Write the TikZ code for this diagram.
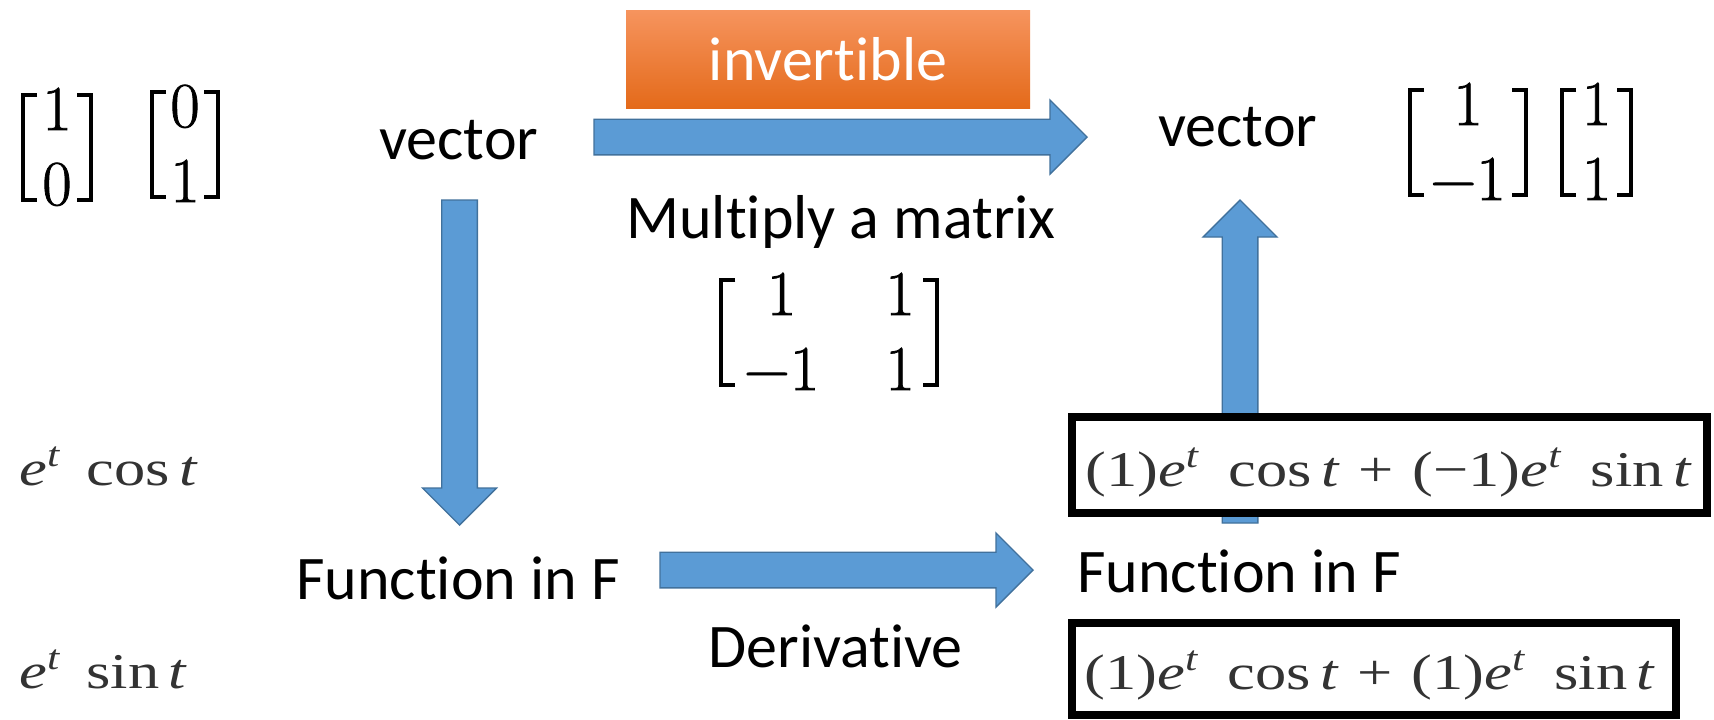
\documentclass[tikz,border=0pt]{standalone}
\usepackage{graphicx}
\usepackage{fontspec}
\setmainfont{Carlito}[Ligatures=NoCommon, Contextuals=NoAlternate]
\newfontfamily\tms{Liberation Serif}
\newfontfamily\lmr{Latin Modern Roman}[FakeBold=1.2]
\usetikzlibrary{calc}
\definecolor{abl}{RGB}{91,155,213}
\definecolor{abd}{RGB}{65,113,156}
\definecolor{otop}{RGB}{246,148,94}
\definecolor{obot}{RGB}{228,106,26}
\newcommand\etx{\textit{e}\textsuperscript{\textit{t}}}
\newcommand\blurtxt[1]{\scalebox{1.25}[1]{#1}}
\newcommand\arrR[2]{\draw[barr] let \p1=(#1), \p2=(#2) in
  (\x1,\y1+8.9pt) -- (\x2-18.5pt,\y1+8.9pt) -- (\x2-18.5pt,\y1+18.5pt) -- (\x2,\y1)
  -- (\x2-18.5pt,\y1-18.5pt) -- (\x2-18.5pt,\y1-8.9pt) -- (\x1,\y1-8.9pt) -- cycle;}
\newcommand\arrD[2]{\draw[barr] let \p1=(#1), \p2=(#2) in
  (\x1-8.9pt,\y1) -- (\x1-8.9pt,\y2+18.5pt) -- (\x1-18.5pt,\y2+18.5pt) -- (\x1,\y2)
  -- (\x1+18.5pt,\y2+18.5pt) -- (\x1+8.9pt,\y2+18.5pt) -- (\x1+8.9pt,\y1) -- cycle;}
\newcommand\arrU[2]{\draw[barr] let \p1=(#1), \p2=(#2) in
  (\x1-8.9pt,\y1) -- (\x1-8.9pt,\y2-18.5pt) -- (\x1-18.5pt,\y2-18.5pt) -- (\x1,\y2)
  -- (\x1+18.5pt,\y2-18.5pt) -- (\x1+8.9pt,\y2-18.5pt) -- (\x1+8.9pt,\y1) -- cycle;}
\newcommand\brk[2]{%
  \draw[brkline] ($(#1.base)+(-#2+14,-35)$) -| ($(#1.base)+(-#2,70)$) -- ++(14,0);
  \draw[brkline] ($(#1.base)+(#2-14,-35)$) -| ($(#1.base)+(#2,70)$) -- ++(-14,0);}
\tikzset{
  lbl/.style={font=\fontsize{31}{37}\selectfont, inner sep=0pt, anchor=base west},
  ftxt/.style={font=\tms\fontsize{25}{30}\selectfont, text=black!80, inner sep=0pt},
  mtx/.style={font=\lmr\fontsize{32}{37.5}\selectfont, inner sep=0pt, anchor=base},
  brkline/.style={line width=2pt},
  barr/.style={fill=abl, draw=abd, line width=0.7pt},
  fbox/.style={draw=black, line width=4pt, fill=white, inner sep=0pt},
  obox/.style={top color=otop, bottom color=obot, text=white, inner sep=0pt,
    minimum width=202pt, minimum height=49pt, font=\fontsize{31}{37}\selectfont},
}
\begin{document}
\begin{tikzpicture}[x=0.5pt,y=-0.5pt]
\path[use as bounding box, fill=white] (0,0) rectangle (1714,719);

% coordinates for arrow ends
\coordinate (a1s) at (594,137);
\coordinate (a1t) at (1087,137);
\coordinate (a2s) at (459.5,200);
\coordinate (a2t) at (459.5,525);
\coordinate (a3s) at (1240,523);
\coordinate (a3t) at (1240,200);
\coordinate (a4s) at (660,570);
\coordinate (a4t) at (1033,570);

% text labels
\node[lbl] (vecL) at (379,159) {vector};
\node[lbl] (vecR) at (1158,146) {vector};
\node[lbl] (mult) at (626,238) {Multiply a matrix};
\node[lbl] (funL) at (296,599) {Function in F};
\node[lbl] (funR) at (1077,592) {Function in F};
\node[lbl] (deriv) at (708,667) {Derivative};
\node[obox] (inv) at (828,59) {invertible};

% block arrows
\arrR{a1s}{a1t}
\arrD{a2s}{a2t}
\arrU{a3s}{a3t}
\arrR{a4s}{a4t}

% matrices
\node[mtx] (m10) at (57,130) {\begin{tabular}[t]{@{}c@{}}1\\0\end{tabular}};
\node[mtx] (m01) at (185,127) {\begin{tabular}[t]{@{}c@{}}0\\1\end{tabular}};
\node[mtx] (m1m) at (1468,125) {\begin{tabular}[t]{@{}c@{}}1\\−1\end{tabular}};
\node[mtx] (m11) at (1596.5,125) {\begin{tabular}[t]{@{}c@{}}1\\1\end{tabular}};
\node[mtx] (mid) at (829.3,315) {\begin{tabular}[t]{@{}c@{\hspace{33pt}}c@{}}1&1\\−1&1\end{tabular}};
\brk{m10}{34}
\brk{m01}{33}
\brk{m1m}{58}
\brk{m11}{34.5}
\brk{mid}{108}

% left function labels
\node[ftxt, anchor=base west] (f1) at (19,485) {\blurtxt{\etx\hspace{0.4em}cos\hspace{0.15em}\textit{t}}};
\node[ftxt, anchor=base west] (f2) at (19,688) {\blurtxt{\etx\hspace{0.4em}sin\hspace{0.15em}\textit{t}}};

% framed combinations
\node[fbox, minimum width=317.5pt, minimum height=48pt] (box1) at (1389.5,465) {};
\node[fbox, minimum width=302pt, minimum height=46pt] (box2) at (1374,669) {};
\node[ftxt, anchor=base] (c1) at (1388.5,486) {\blurtxt{(1)\etx\hspace{0.45em}cos\hspace{0.15em}\textit{t}\hspace{0.3em}+\hspace{0.3em}(−1)\etx\hspace{0.45em}sin\hspace{0.15em}\textit{t}}};
\node[ftxt, anchor=base] (c2) at (1370,689) {\blurtxt{(1)\etx\hspace{0.45em}cos\hspace{0.15em}\textit{t}\hspace{0.3em}+\hspace{0.3em}(1)\etx\hspace{0.45em}sin\hspace{0.15em}\textit{t}}};
\end{tikzpicture}
\end{document}
